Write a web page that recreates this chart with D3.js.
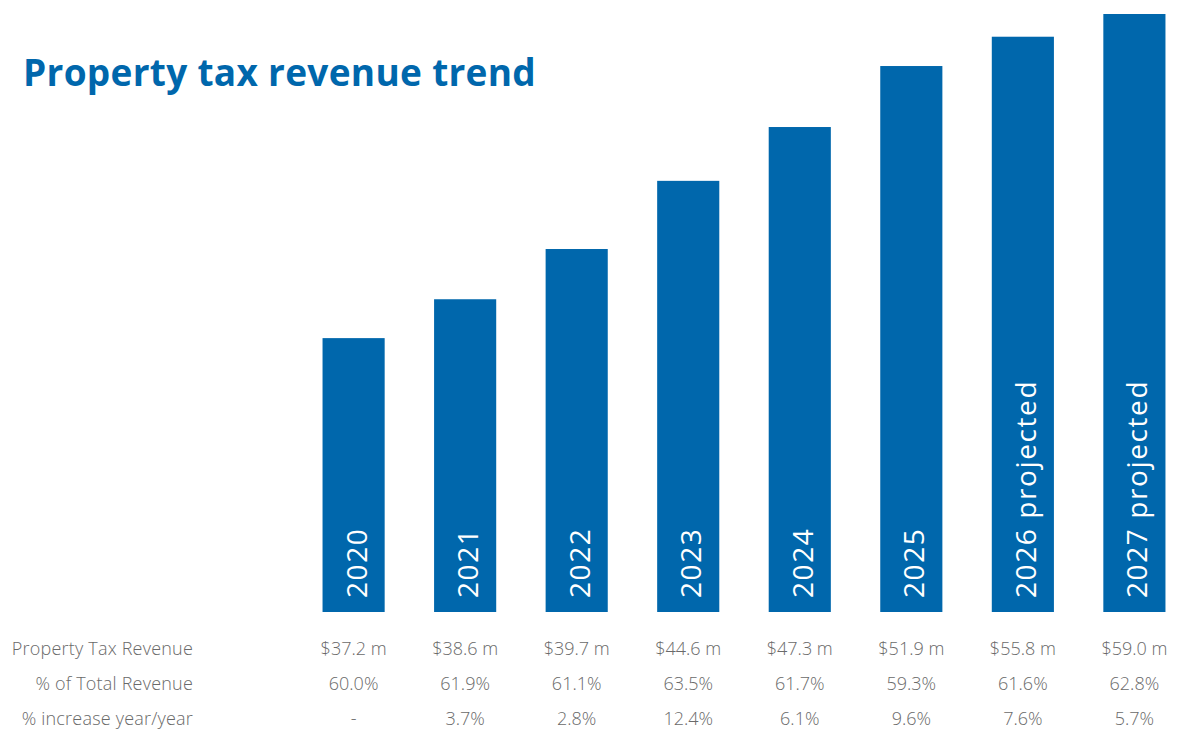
<!DOCTYPE html>
<html>
<head>
<meta charset="utf-8">
<script src="https://cdn.jsdelivr.net/npm/d3@7"></script>
<style>
  html, body { margin: 0; padding: 0; background: #fff; }
  svg { display: block; }
</style>
</head>
<body>
<svg id="chart"></svg>
<script>
const years = ["2020", "2021", "2022", "2023", "2024", "2025", "2026 projected", "2027 projected"];
// bar heights as drawn, relative to the tallest bar (= 100)
const barLevels = [45.8, 52.3, 60.7, 72.1, 81.1, 91.3, 96.2, 100];
const revenue = ["$37.2 m", "$38.6 m", "$39.7 m", "$44.6 m", "$47.3 m", "$51.9 m", "$55.8 m", "$59.0 m"];
const pctTotal = ["60.0%", "61.9%", "61.1%", "63.5%", "61.7%", "59.3%", "61.6%", "62.8%"];
const pctIncrease = ["-", "3.7%", "2.8%", "12.4%", "6.1%", "9.6%", "7.6%", "5.7%"];
const rowLabels = ["Property Tax Revenue", "% of Total Revenue", "% increase year/year"];

const width = 1177, height = 729;
const blue = "#0067ac";

const svg = d3.select("#chart")
  .attr("width", width)
  .attr("height", height);

svg.append("text")
  .attr("x", 23)
  .attr("y", 86)
  .attr("fill", blue)
  .style("font-family", "'Open Sans', sans-serif")
  .style("font-weight", "bold")
  .style("font-size", "37px")
  .style("letter-spacing", "0.3px")
  .text("Property tax revenue trend");

const x = d3.scaleBand()
  .domain(years)
  .range([298, 1190])
  .paddingInner(0.443)
  .paddingOuter(0.22);

const y = d3.scaleLinear()
  .domain([0, 100])
  .range([612, 14]);

const bars = svg.selectAll(".bar")
  .data(years)
  .enter().append("g")
  .attr("class", "bar");

bars.append("rect")
  .attr("x", d => x(d))
  .attr("y", (d, i) => y(barLevels[i]))
  .attr("width", x.bandwidth())
  .attr("height", (d, i) => y(0) - y(barLevels[i]))
  .attr("fill", blue);

bars.append("text")
  .attr("transform", d => "translate(" + (x(d) + x.bandwidth() / 2 + 13) + "," + 598 + ") rotate(-90)")
  .attr("fill", "#fff")
  .style("font-family", "'Open Sans', sans-serif")
  .style("font-weight", 400)
  .style("font-size", "28px")
  .style("letter-spacing", "1.6px")
  .text(d => d);

// table under the chart
const rows = [revenue, pctTotal, pctIncrease];
const rowY = [655, 690, 725];
const tableFont = "'Open Sans', sans-serif";
const grey = "#6a6a6a";

rows.forEach((vals, r) => {
  svg.append("text")
    .attr("x", 193)
    .attr("y", rowY[r])
    .attr("text-anchor", "end")
    .attr("fill", grey)
    .style("font-family", tableFont)
    .style("font-weight", 300)
    .style("font-size", "18px")
    .style("letter-spacing", "0.2px")
    .text(rowLabels[r]);

  svg.selectAll(".cell" + r)
    .data(vals)
    .enter().append("text")
    .attr("class", "cell" + r)
    .attr("x", (d, i) => x(years[i]) + x.bandwidth() / 2)
    .attr("y", rowY[r])
    .attr("text-anchor", "middle")
    .attr("fill", grey)
    .style("font-family", tableFont)
    .style("font-weight", 300)
    .style("font-size", "18px")
    .text(d => d);
});
</script>
</body>
</html>
